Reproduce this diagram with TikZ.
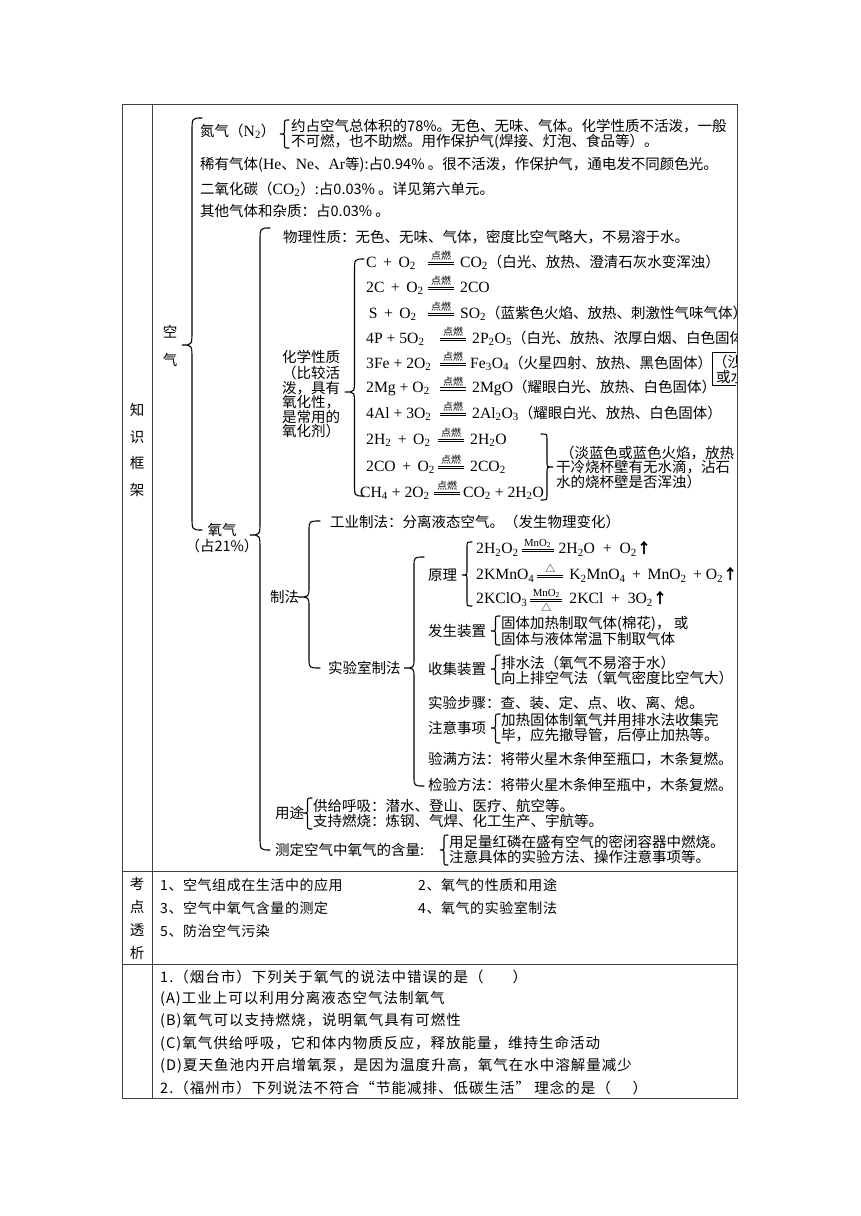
\documentclass[tikz,border=0pt]{standalone}
\usepackage{fontspec}
\setmainfont{Noto Sans CJK SC}
\newfontfamily\lat[Scale=1.08]{Liberation Serif}
\newfontfamily\rowfont[LetterSpace=4]{Noto Sans CJK SC}
\newfontfamily\qfont[LetterSpace=7]{Noto Sans CJK SC}
\newcommand\sub[1]{\textsubscript{#1}}
\newcommand\eqc[3]{\smash{$\mathop{\vcenter{\hrule width #1 height 0.7pt\kern1.8pt\hrule width #1 height 0.7pt}}\limits^{\hbox{\fontsize{10}{10}\selectfont #2}}_{\hbox{\fontsize{10}{10}\selectfont #3}}$}}
\newcommand\LB[6]{%
  \pgfmathsetmacro\xm{(#1+#2)/2}%
  \draw[brc] (#2,#3) .. controls (\xm,#3) .. (\xm,{#3+#6}) -- (\xm,{#4-#6}) .. controls (\xm,#4) .. (#1,#4) .. controls (\xm,#4) .. (\xm,{#4+#6}) -- (\xm,{#5-#6}) .. controls (\xm,#5) .. (#2,#5);}
\tikzset{
  txt/.style={anchor=west, inner sep=0pt, font=\fontsize{14.5}{15}\selectfont},
  txt2/.style={txt, align=left},
  brc/.style={line width=1.1pt, line cap=round},
  grid/.style={line width=0.9pt, draw=black!75},
  lab/.style={inner sep=0pt, align=center},
  rowtxt/.style={anchor=west, inner sep=0pt, font=\fontsize{14}{15}\rowfont},
  qtxt/.style={anchor=west, inner sep=0pt, font=\fontsize{14.5}{15}\qfont},
}
\begin{document}
\begin{tikzpicture}[x=1pt,y=-1pt]
\useasboundingbox (0,0) rectangle (860,1216);
\fill[white] (0,0) rectangle (860,1216);
% table
\draw[grid] (122,104) rectangle (737,1098);
\draw[grid] (152,104) -- (152,1098);
\draw[grid] (122,871) -- (737,871);
\draw[grid] (122,964) -- (737,964);
% left column labels
\node[lab, font=\fontsize{14.5}{26.7}\selectfont] (lk) at (137,450) {知\\识\\框\\架};
\node[lab, font=\fontsize{14.5}{23}\selectfont] (lt) at (137,918) {考\\点\\透\\析};

\begin{scope}
\clip (153,105) rectangle (736,870);
% air
\node[lab, font=\fontsize{14.5}{28}\selectfont] (air) at (170,346) {空\\气};
\LB{182}{202}{118}{345}{530}{14}
\node[txt] (n2) at (200,131) {氮气（{\lat N\sub{2}}）};
\LB{280}{289}{120}{134}{148}{4}
\node[txt2] (n2d) at (291,134) {约占空气总体积的78\%。无色、无味、气体。化学性质不活泼，一般\\不可燃，也不助燃。用作保护气(焊接、灯泡、食品等）。};
\node[txt] (rare) at (200,165) {稀有气体({\lat He}、{\lat Ne}、{\lat Ar}等):占0.94\% 。很不活泼，作保护气，通电发不同颜色光。};
\node[txt] (co2) at (200,189) {二氧化碳（{\lat CO\sub{2}}）:占0.03\% 。详见第六单元。};
\node[txt] (other) at (200,211) {其他气体和杂质：占0.03\% 。};
% oxygen
\node[lab, font=\fontsize{14.5}{16}\selectfont] (o2) at (222,538) {氧气\\（占21\%）};
\LB{250}{270}{228}{535}{850}{14}
\node[txt] (phys) at (283,237) {物理性质：无色、无味、气体，密度比空气略大，不易溶于水。};
\node[txt] (chem) at (282,357) {化学性质};
\node[txt2, font=\fontsize{14.5}{14.5}\selectfont] (chemd) at (282,402) {（比较活\\泼，具有\\氧化性，\\是常用的\\氧化剂）};
\LB{345}{364}{259}{392}{496}{12}
% reactions
\node[txt] (r1) at (366,262) {\makebox[62pt][l]{\lat C \,+\, O\sub2}\eqc{26pt}{点燃}{}\hspace{6pt}{\lat CO\sub2}（白光、放热、澄清石灰水变浑浊）};
\node[txt] (r2) at (366,288) {\makebox[62pt][l]{\lat 2C \,+\, O\sub2}\eqc{26pt}{点燃}{}\hspace{6pt}{\lat 2CO}};
\node[txt] (r3) at (366,313) {\makebox[62pt][l]{\lat \,S \,+\, O\sub2}\eqc{26pt}{点燃}{}\hspace{6pt}{\lat SO\sub2}（蓝紫色火焰、放热、刺激性气味气体）};
\node[txt] (r4) at (366,338) {\makebox[74pt][l]{\lat 4P + 5O\sub2}\eqc{26pt}{点燃}{}\hspace{6pt}{\lat 2P\sub2O\sub5}（白光、放热、浓厚白烟、白色固体）};
\node[txt] (r5) at (366,363) {\makebox[74pt][l]{\lat 3Fe + 2O\sub2}\eqc{26pt}{点燃}{}\hspace{4pt}{\lat Fe\sub3O\sub4}（火星四射、放热、黑色固体）};
\node[txt] (r6) at (366,388) {\makebox[74pt][l]{\lat 2Mg + O\sub2}\eqc{26pt}{点燃}{}\hspace{6pt}{\lat 2MgO}（耀眼白光、放热、白色固体）};
\node[txt] (r7) at (366,413) {\makebox[74pt][l]{\lat 4Al + 3O\sub2}\eqc{26pt}{点燃}{}\hspace{6pt}{\lat 2Al\sub2O\sub3}（耀眼白光、放热、白色固体）};
\node[txt] (r8) at (366,440) {\makebox[72pt][l]{\lat 2H\sub2 \,+\, O\sub2}\eqc{26pt}{点燃}{}\hspace{6pt}{\lat 2H\sub2O}};
\node[txt] (r9) at (366,467) {\makebox[72pt][l]{\lat 2CO \,+\, O\sub2}\eqc{26pt}{点燃}{}\hspace{6pt}{\lat 2CO\sub2}};
\node[txt] (r10) at (360,493) {\makebox[74pt][l]{\lat CH\sub4 + 2O\sub2}\eqc{26pt}{点燃}{}\hspace{3pt}{\lat CO\sub2 + 2H\sub2O}};
\LB{553}{541}{434}{467}{500}{5}
\node[txt2, font=\fontsize{14.5}{14.5}\selectfont] (flame) at (556,467) {\hspace{4pt}（淡蓝色或蓝色火焰，放热\\干冷烧杯壁有无水滴，沾石\\水的烧杯壁是否浑浊）};
\draw[line width=0.8pt] (712,352) rectangle (760,385);
\node[txt2, font=\fontsize{14.5}{15}\selectfont] (sand) at (713,369) {（沙子\\\hspace{3pt}或水};
% preparation
\node[txt] (zf) at (270,597) {制法};
\LB{298}{320}{521}{597}{668}{10}
\node[txt] (gy) at (330,522) {工业制法：分离液态空气。（发生物理变化）};
\node[txt] (sy) at (328,668) {实验室制法};
\LB{404}{424}{557}{668}{786}{10}
\node[txt] (yl) at (428,575) {原理};
\LB{462}{472}{542}{575}{606}{5}
\node[txt] (e1) at (476,549) {{\lat 2H\sub2O\sub2}\hspace{3pt}\eqc{32pt}{\lat MnO\sub2}{}\hspace{5pt}{\lat 2H\sub2O \ + \ O\sub2}\textbf{↑}};
\node[txt] (e2) at (476,575) {{\lat 2KMnO\sub4}\hspace{3pt}\eqc{26pt}{△}{}\hspace{6pt}{\lat K\sub2MnO\sub4 \,+\, MnO\sub2 \,+ O\sub2}\textbf{↑}};
\node[txt] (e3) at (476,599) {{\lat 2KClO\sub3}\hspace{3pt}\eqc{32pt}{\lat MnO\sub2}{△}\hspace{7pt}{\lat 2KCl \ + \ 3O\sub2}\textbf{↑}};
\node[txt] (fs) at (428,631) {发生装置};
\LB{491}{500}{616}{631}{645}{4}
\node[txt2] (fsd) at (501,631) {固体加热制取气体(棉花)， 或\\固体与液体常温下制取气体};
\node[txt] (sj) at (428,669) {收集装置};
\LB{491}{500}{655}{669}{684}{4}
\node[txt2] (sjd) at (501,670) {排水法（氧气不易溶于水）\\向上排空气法（氧气密度比空气大）};
\node[txt] (bz) at (428,703) {实验步骤：查、装、定、点、收、离、熄。};
\node[txt] (zy) at (428,728) {注意事项};
\LB{491}{500}{714}{728}{743}{4}
\node[txt2] (zyd) at (501,728) {加热固体制氧气并用排水法收集完\\毕，应先撤导管，后停止加热等。};
\node[txt] (ym) at (428,759) {验满方法：将带火星木条伸至瓶口，木条复燃。};
\node[txt] (jy) at (428,785) {检验方法：将带火星木条伸至瓶中，木条复燃。};
\node[txt] (yt) at (275,813) {用途};
\LB{303}{312}{798}{813}{829}{4}
\node[txt2] (ytd) at (313,813) {供给呼吸：潜水、登山、医疗、航空等。\\支持燃烧：炼钢、气焊、化工生产、宇航等。};
\node[txt] (cd) at (275,850) {测定空气中氧气的含量:};
\LB{440}{448}{835}{850}{865}{4}
\node[txt2] (cdd) at (449,849) {用足量红磷在盛有空气的密闭容器中燃烧。\\注意具体的实验方法、操作注意事项等。};
\end{scope}

% row 2
\node[rowtxt] (k1) at (160,885) {1、空气组成在生活中的应用};
\node[rowtxt] (k2) at (418,885) {2、氧气的性质和用途};
\node[rowtxt] (k3) at (160,908) {3、空气中氧气含量的测定};
\node[rowtxt] (k4) at (418,908) {4、氧气的实验室制法};
\node[rowtxt] (k5) at (160,931) {5、防治空气污染};
% row 3
\node[qtxt] (q1) at (160,977) {1.（烟台市）下列关于氧气的说法中错误的是（\hspace{2em}）};
\node[qtxt] (qa) at (160,999) {(A)工业上可以利用分离液态空气法制氧气};
\node[qtxt] (qb) at (160,1021) {(B)氧气可以支持燃烧，说明氧气具有可燃性};
\node[qtxt] (qc) at (160,1044) {(C)氧气供给呼吸，它和体内物质反应，释放能量，维持生命活动};
\node[qtxt] (qd) at (160,1066) {(D)夏天鱼池内开启增氧泵，是因为温度升高，氧气在水中溶解量减少};
\node[qtxt] (q2) at (160,1088) {2.（福州市）下列说法不符合“节能减排、低碳生活” 理念的是（\hspace{1.5em}）};
\end{tikzpicture}
\end{document}
